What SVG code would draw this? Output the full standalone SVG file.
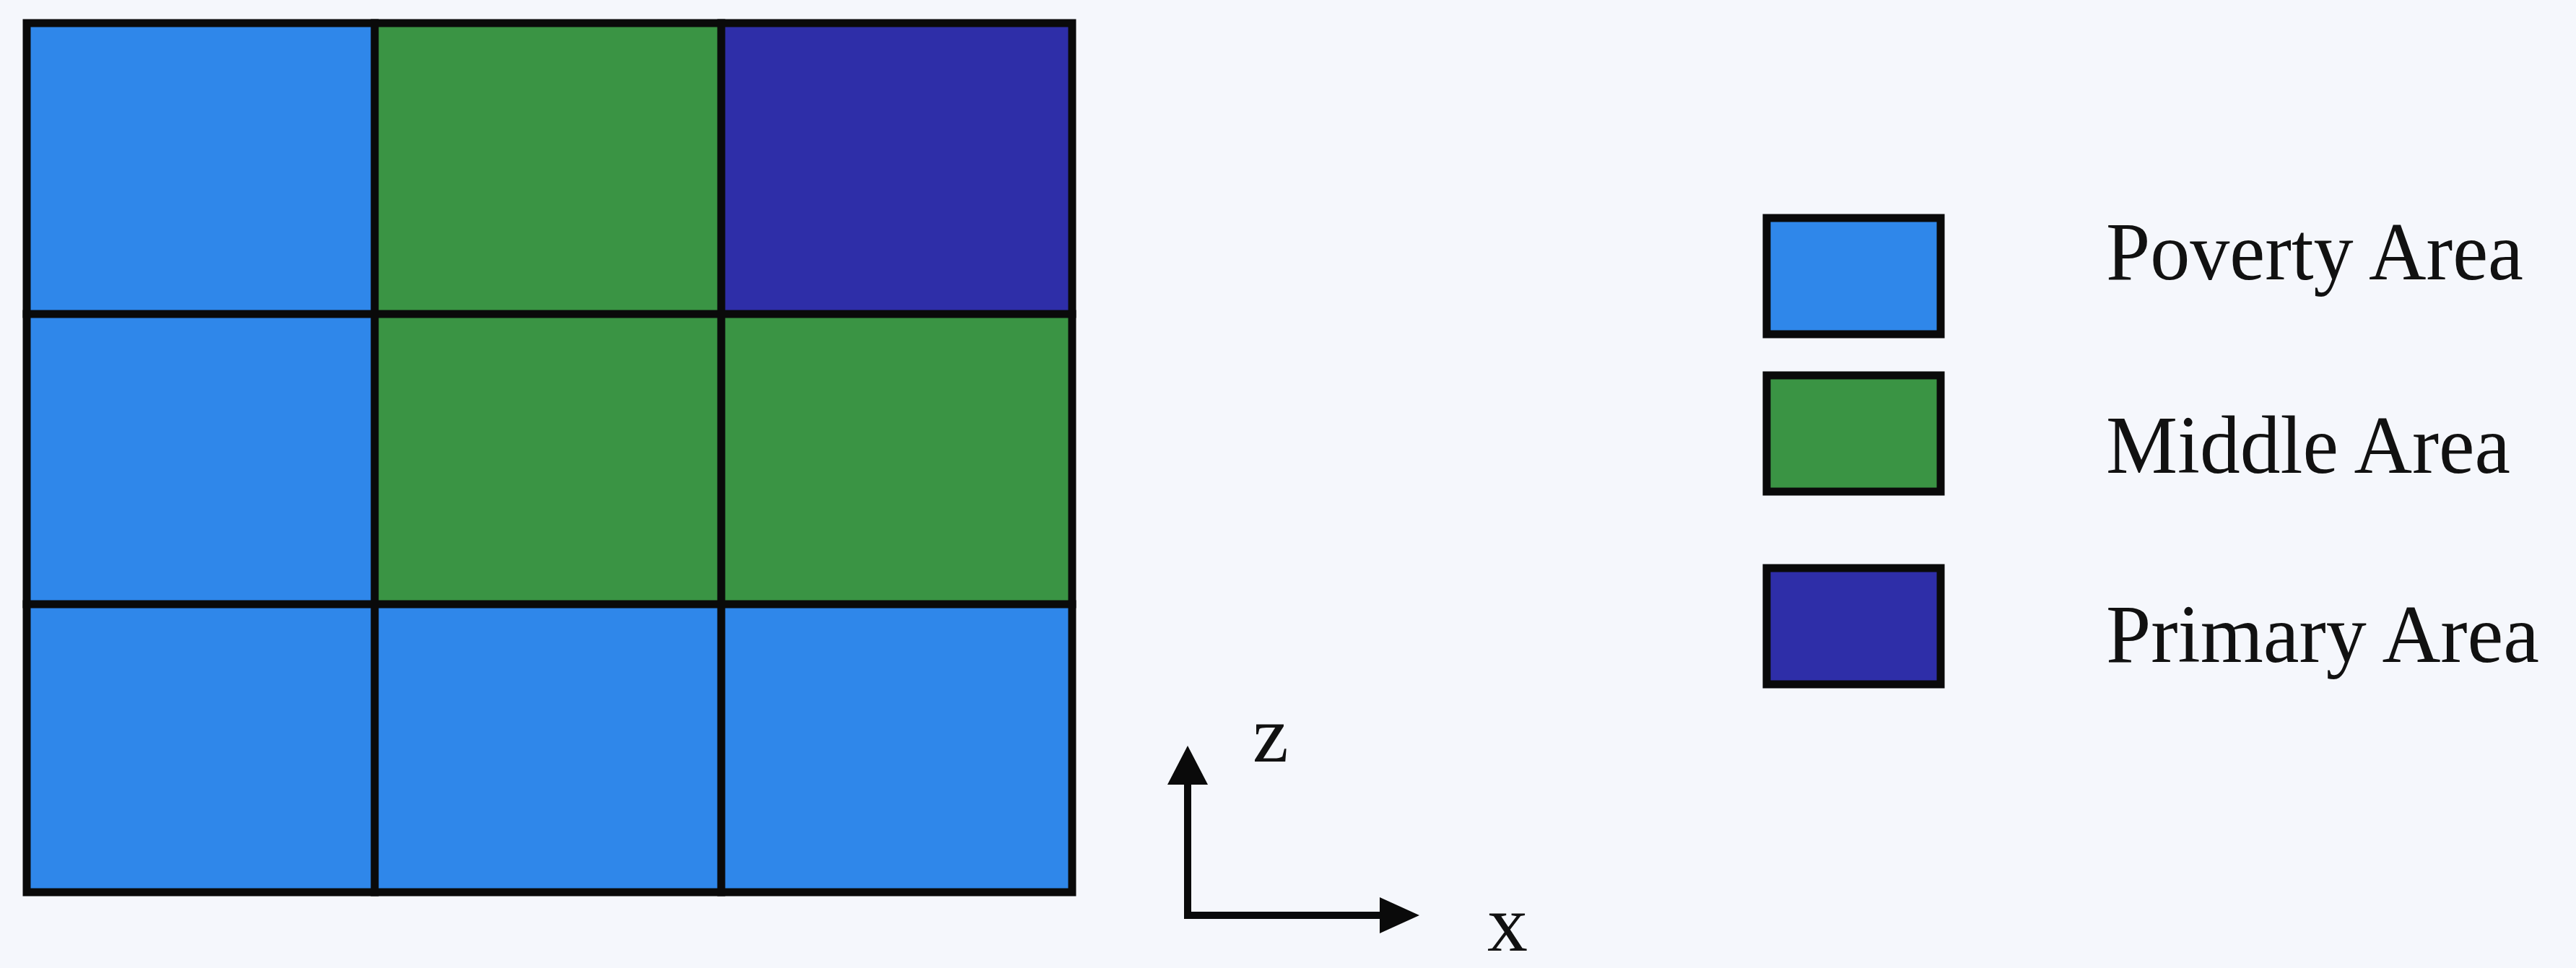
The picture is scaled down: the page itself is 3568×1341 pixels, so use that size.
<svg xmlns="http://www.w3.org/2000/svg" width="3568" height="1341" viewBox="0 0 3568 1341">
<style>
.bl{fill:#2f87ea}
.gr{fill:#3a9444}
.db{fill:#2e2ea8}
.ln{stroke:#0a0a0a;stroke-width:11;fill:none;stroke-linecap:square}
.bx{stroke:#0a0a0a;stroke-width:11}
.axl{stroke:#0a0a0a;stroke-width:10;fill:none}
.ah{fill:#0a0a0a}
.lab{font-family:"Liberation Serif","Times New Roman",serif;font-size:114px;fill:#111}
.ax{font-family:"Liberation Serif","Times New Roman",serif;font-size:112px;fill:#111}
</style>
<rect width="3568" height="1341" fill="#f5f7fc"/>
<g id="grid">
<g id="cell-r1c1"><rect class="bl" x="37" y="32" width="482" height="403"/></g>
<g id="cell-r1c2"><rect class="gr" x="519" y="32" width="480" height="403"/></g>
<g id="cell-r1c3"><rect class="db" x="999" y="32" width="486" height="403"/></g>
<g id="cell-r2c1"><rect class="bl" x="37" y="435" width="482" height="402"/></g>
<g id="cell-r2c2"><rect class="gr" x="519" y="435" width="480" height="402"/></g>
<g id="cell-r2c3"><rect class="gr" x="999" y="435" width="486" height="402"/></g>
<g id="cell-r3c1"><rect class="bl" x="37" y="837" width="482" height="399"/></g>
<g id="cell-r3c2"><rect class="bl" x="519" y="837" width="480" height="399"/></g>
<g id="cell-r3c3"><rect class="bl" x="999" y="837" width="486" height="399"/></g>
<rect class="ln" x="37" y="32" width="1448" height="1204"/>
<line class="ln" x1="519" y1="32" x2="519" y2="1236"/>
<line class="ln" x1="999" y1="32" x2="999" y2="1236"/>
<line class="ln" x1="37" y1="435" x2="1485" y2="435"/>
<line class="ln" x1="37" y1="837" x2="1485" y2="837"/>
</g>
<g id="legend-poverty"><rect class="bx" x="2447" y="302" width="241" height="161" fill="#2f87ea"/><text class="lab" x="2917" y="387" textLength="578" lengthAdjust="spacingAndGlyphs">Poverty Area</text></g>
<g id="legend-middle"><rect class="bx" x="2447" y="520" width="241" height="161" fill="#3a9444"/><text class="lab" x="2917" y="655" textLength="560" lengthAdjust="spacingAndGlyphs">Middle Area</text></g>
<g id="legend-primary"><rect class="bx" x="2447" y="787" width="241" height="161" fill="#2e2ea8"/><text class="lab" x="2917" y="917" textLength="600" lengthAdjust="spacingAndGlyphs">Primary Area</text></g>
<g id="connectors">
<line class="axl" x1="1645" y1="1268" x2="1645" y2="1080"/>
<polygon class="ah" points="1645,1033 1673,1087 1617,1087"/>
<line class="axl" x1="1640" y1="1268" x2="1915" y2="1268"/>
<polygon class="ah" points="1966,1268 1911,1243 1911,1293"/>
</g>
<text class="ax" x="1735" y="1055">z</text>
<text class="ax" x="2060" y="1317">x</text>
</svg>
